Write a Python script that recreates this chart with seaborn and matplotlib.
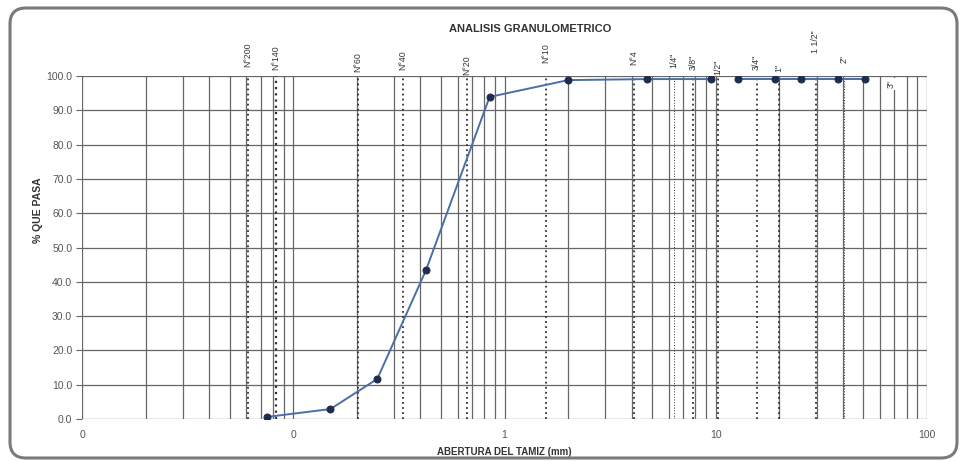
import pandas as pd
import matplotlib.pyplot as plt
import seaborn as sns
from matplotlib.patches import FancyBboxPatch

# Ensayo granulometrico: abertura del tamiz (mm) vs % que pasa
abertura = [0.075, 0.15, 0.25, 0.425, 0.85, 2.0, 4.75, 9.5, 12.7, 19.0, 25.4, 38.1, 50.8]
pasa = [0.6, 2.9, 11.7, 43.4, 93.9, 98.8, 99.1, 99.1, 99.1, 99.1, 99.1, 99.1, 99.1]
tramo = [1, 1, 1, 1, 1, 1, 1, 1, 2, 2, 2, 2, 2]  # la curva se corta entre 3/8" y 1/2"

# tamices de referencia (lineas punteadas y rotulos arriba)
tamices = ["N°200", "N°140", "N°60", "N°40", "N°20", "N°10", "N°4",
           '1/4"', '3/8"', '1/2"', '3/4"', '1"', '1 1/2"', '2"', '3"']
tamiz_mm = [0.061, 0.083, 0.203, 0.329, 0.661, 1.565, 4.09,
            6.32, 7.78, 10.2, 15.6, 19.9, 29.8, 40.4, 67.5]

x_ticks = [0.01, 0.1, 1, 10, 100]
x_ticklabels = ["0", "0", "1", "10", "100"]
y_ticks = list(range(0, 101, 10))

df = pd.DataFrame({"abertura": abertura, "pasa": pasa, "tramo": tramo})

sns.set_style("white")
plt.rcParams["font.family"] = ["Liberation Sans", "DejaVu Sans"]

fig = plt.figure(figsize=(9.61, 4.61), dpi=100)
ax = fig.add_axes([82 / 961, 1 - 419 / 461, 845 / 961, 343 / 461])

# rounded frame around the whole chart (pixel coords)
frame = FancyBboxPatch((10, 3), 947, 450, boxstyle="round,pad=0,rounding_size=16",
                       transform=None, fill=False, edgecolor="#7a7a7a", linewidth=2.2)
fig.add_artist(frame)

ax.set_xscale("log")
ax.set_xlim(0.01, 100)
ax.set_ylim(0, 100)

# grid
ax.grid(True, which="both", axis="x", color="#666666", linewidth=0.9)
ax.grid(True, which="major", axis="y", color="#666666", linewidth=0.9)
ax.set_axisbelow(True)
for s in ax.spines.values():
    s.set_visible(False)

# sieve reference lines
line_style = {"N°140": 1.6, '1/4"': 0.7, '2"': 0.7}
for nombre, mm in zip(tamices, tamiz_mm):
    if nombre == '3"':
        continue
    ax.axvline(mm, color="#333333", linestyle=(0, (1, 1.8)), linewidth=line_style.get(nombre, 1.3), zorder=2)

# labels above the sieve lines (offsets in px above the top of the plot)
label_off = [9, 6, 4, 6, 1, 13, 11, 8, 6, 1, 6, 4, 23, 13, -12]
for nombre, mm, off in zip(tamices, tamiz_mm, label_off):
    ax.annotate(nombre, xy=(mm, 1), xycoords=("data", "axes fraction"),
                xytext=(0, off * 0.72), textcoords="offset points",
                rotation=90, ha="center", va="bottom", fontsize=6.3, color="#333333",
                annotation_clip=False,
                bbox=dict(facecolor="white", edgecolor="none", pad=1.5) if off < 0 else None)

# curve
for t, grupo in df.groupby("tramo"):
    sns.lineplot(data=grupo, x="abertura", y="pasa", ax=ax, color="#4a6fa5",
                 linewidth=1.4, marker="o", markersize=5, markerfacecolor="#1e2d4d",
                 markeredgecolor="#1e2d4d", zorder=4)

ax.set_xticks(x_ticks)
ax.set_xticklabels(x_ticklabels)
ax.set_yticks(y_ticks)
ax.set_yticklabels([f"{v:.1f}" for v in y_ticks])
ax.tick_params(axis="x", which="both", length=0, pad=8, labelsize=7.5, labelcolor="#555555")
ax.tick_params(axis="y", length=4, color="#666666", pad=3, labelsize=7.5, labelcolor="#555555", left=True)

ax.set_xlabel("ABERTURA DEL TAMIZ (mm)", fontsize=7, fontweight="bold", color="#333333", labelpad=5)
ax.set_ylabel("% QUE PASA", fontsize=7.5, fontweight="bold", color="#333333")
ax.yaxis.set_label_coords(-0.046, 0.61)
ax.set_title("ANALISIS GRANULOMETRICO", fontsize=8, fontweight="bold", color="#333333",
             x=0.53, pad=32)

fig.savefig("out.png", dpi=100)
